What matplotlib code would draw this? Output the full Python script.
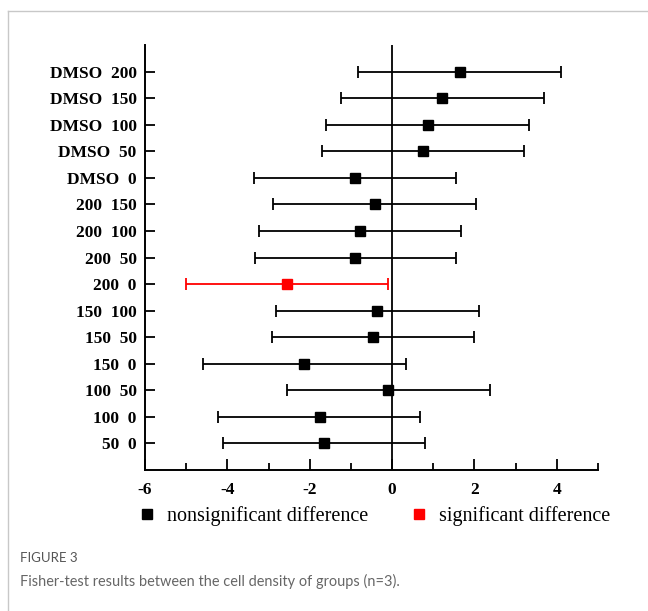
import matplotlib
matplotlib.use('Agg')
import matplotlib.pyplot as plt
from matplotlib.lines import Line2D

plt.rcParams['axes.unicode_minus'] = False

# comparisons, top row first
labels = ['DMSO  200', 'DMSO  150', 'DMSO  100', 'DMSO  50', 'DMSO  0',
          '200  150', '200  100', '200  50', '200  0',
          '150  100', '150  50', '150  0', '100  50', '100  0', '50  0']
means = [1.64, 1.22, 0.86, 0.76, -0.90, -0.42, -0.78, -0.89, -2.55,
         -0.36, -0.46, -2.13, -0.10, -1.76, -1.66]
lower = [-0.82, -1.24, -1.60, -1.70, -3.35, -2.88, -3.23, -3.34, -5.01,
         -2.81, -2.92, -4.59, -2.55, -4.22, -4.11]
upper = [4.10, 3.68, 3.32, 3.20, 1.55, 2.04, 1.68, 1.56, -0.10,
         2.11, 2.00, 0.33, 2.37, 0.68, 0.80]
significant = [False] * 8 + [True] + [False] * 6

serif = 'Liberation Serif'

fig = plt.figure(figsize=(6.48, 6.11), dpi=100)
ax = fig.add_axes([145 / 648, 1 - 470 / 611, 453 / 648, 425 / 611])

n = len(labels)
ys = [n - i for i in range(n)]
for y, m, lo, hi, sig in zip(ys, means, lower, upper, significant):
    c = '#ff0000' if sig else '#000000'
    ax.errorbar(m, y, xerr=[[m - lo], [hi - m]], fmt='s', color=c, ecolor=c,
                markersize=7.3, elinewidth=1.3, capsize=4, capthick=1.3, zorder=3)

ax.axvline(0, color='black', lw=1.3, zorder=1)

ax.set_xlim(-6, 5)
ax.set_ylim(0, n + 1)
ax.set_yticks(ys)
ax.set_yticklabels(labels)
ax.set_xticks([-6, -4, -2, 0, 2, 4])
ax.set_xticks([-5, -3, -1, 1, 3, 5], minor=True)

for s in ['top', 'right']:
    ax.spines[s].set_visible(False)
for s in ['left', 'bottom']:
    ax.spines[s].set_linewidth(1.4)

ax.tick_params(axis='y', direction='in', length=7, width=1.3, pad=6)
ax.tick_params(axis='x', which='major', direction='in', length=8, width=1.3, pad=9)
ax.tick_params(axis='x', which='minor', direction='in', length=5, width=1.3)
for t in ax.get_xticklabels() + ax.get_yticklabels():
    t.set_fontfamily(serif)
    t.set_fontweight('bold')
    t.set_fontsize(12.5)

handles = [Line2D([], [], marker='s', ls='none', color='black', markersize=7),
           Line2D([], [], marker='s', ls='none', color='#ff0000', markersize=7)]
fig.legend(handles, ['nonsignificant difference', 'significant difference'],
           loc='center left', bbox_to_anchor=(137 / 648, 1 - 516 / 611), ncol=2,
           frameon=False, prop={'family': serif, 'size': 14.5},
           handletextpad=0.5, columnspacing=2.0, handlelength=1.0,
           borderaxespad=0, borderpad=0)

# frame of the figure panel
fig.add_artist(Line2D([8 / 648, 1], [1 - 11 / 611, 1 - 11 / 611],
                      transform=fig.transFigure, color='#c8c8c8', lw=1))
fig.add_artist(Line2D([8 / 648, 8 / 648], [0, 1 - 11 / 611],
                      transform=fig.transFigure, color='#c8c8c8', lw=1))

fig.text(20 / 648, 1 - 558 / 611, 'FIGURE 3', family='Lato', fontsize=9.5,
         color='#555555', va='center')
fig.text(20 / 648, 1 - 581 / 611,
         'Fisher-test results between the cell density of groups (n=3).',
         family='Lato', fontsize=10.45, color='#666666', va='center')

fig.savefig('out.png', dpi=100)
